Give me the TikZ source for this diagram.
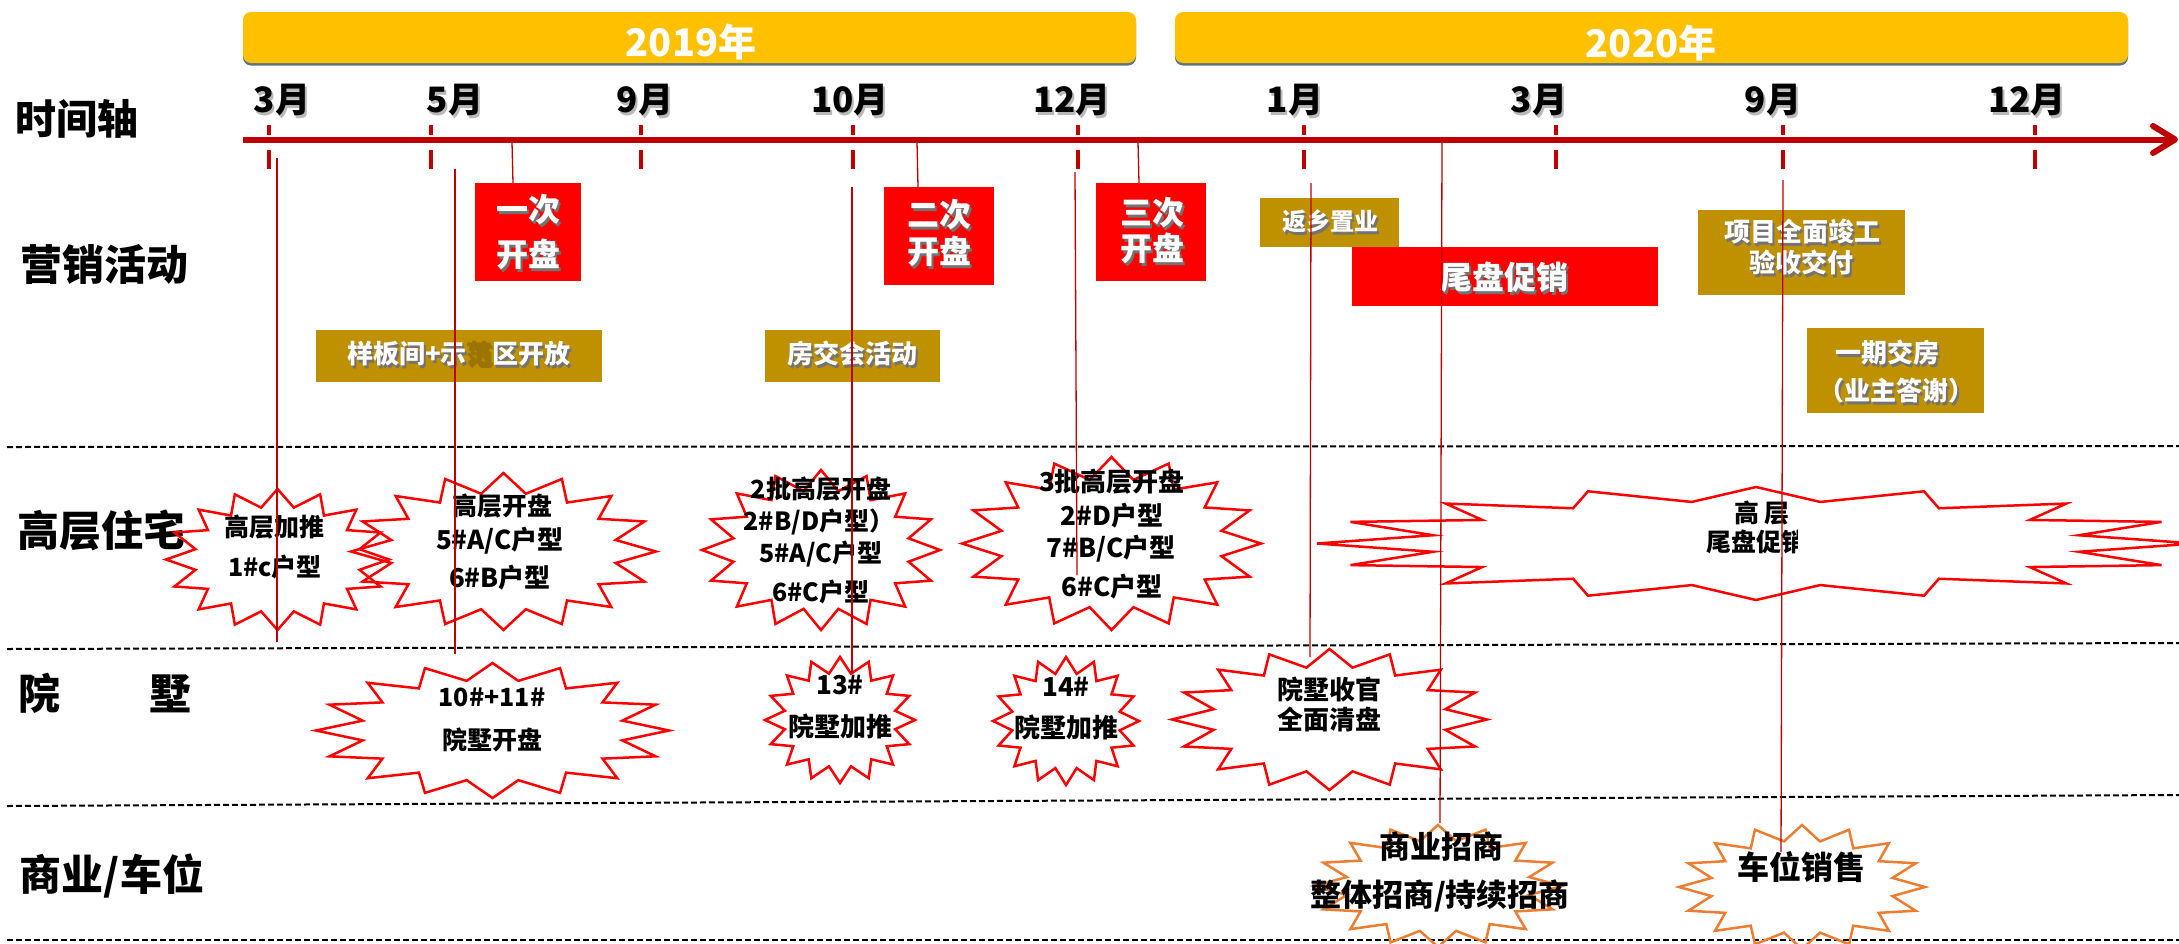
\documentclass[tikz,border=0pt]{standalone}
\usepackage{fontspec}
\setmainfont{Noto Sans CJK SC}
\definecolor{axisred}{HTML}{C00000}
\definecolor{boxred}{HTML}{FF0000}
\definecolor{goldbox}{HTML}{BF9000}
\definecolor{yellowbar}{HTML}{FFC000}
\definecolor{slate}{HTML}{5A7287}
\definecolor{orangeS}{HTML}{ED7D31}
\definecolor{fanC}{HTML}{9C7400}
\newcommand{\tx}[6]{\node[anchor=base, inner sep=0pt, font={\fontsize{#4}{#4}\selectfont\bfseries}, #5] (#1) at (#2,{#3+0.37*#4}) {#6};}
\newcommand{\txs}[7]{\node[anchor=base, inner sep=0pt, font={\fontsize{#4}{#4}\selectfont\bfseries}, #5, text=#7] (#1s) at ({#2+2},{#3+0.37*#4+2.5}) {#6};\tx{#1}{#2}{#3}{#4}{#5}{#6}}
\newcommand{\sstar}[5]{\draw[line width=2.5pt, draw=#5, line join=miter] plot[samples at={0,...,31}, variable=\k] ({#1+(1-0.25*mod(\k,2))*#3*sin(\k*11.25)},{#2-(1-0.25*mod(\k,2))*#4*cos(\k*11.25)}) -- cycle;}
\tikzset{
  dashline/.style={black, line width=2pt, dash pattern=on 6pt off 3pt},
  tickline/.style={axisred, line width=4pt},
  thinred/.style={axisred, line width=1.3pt},
  wt/.style={text=white},
  bt/.style={text=black},
}
\begin{document}
\begin{tikzpicture}[x=1pt,y=-1pt]
\useasboundingbox (0,0) rectangle (2179,943);
\clip (0,0) rectangle (2179,943);
\fill[white] (0,0) rectangle (2179,943);

% year bars
\fill[slate, rounded corners=8pt] (243,15) rectangle (1136,65.5);
\fill[yellowbar, rounded corners=8pt] (243,12) rectangle (1136,63);
\fill[slate, rounded corners=8pt] (1175,15) rectangle (2128,65.5);
\fill[yellowbar, rounded corners=8pt] (1175,12) rectangle (2128,63);
\tx{y19}{691}{42}{38}{wt}{2019年}
\tx{y20}{1651}{43}{38}{wt}{2020年}

% axis
\coordinate (axL) at (243,139.5);
\coordinate (axR) at (2172,139.5);
\draw[axisred, line width=6pt] (axL) -- (axR);
\draw[axisred, line width=6pt, line cap=round, line join=round] (2153,126) -- (2175,139.5) -- (2153,153);

% ticks
\foreach \tk in {269,431,641,853,1078,1304,1556,1783,2035}{
  \draw[tickline] (\tk,125) -- (\tk,135);
  \draw[tickline] (\tk,150) -- (\tk,169);
}

% month labels
\txs{m1}{282}{100}{35}{bt}{3月}{gray!55}
\txs{m2}{455}{100}{35}{bt}{5月}{gray!55}
\txs{m3}{645}{100}{35}{bt}{9月}{gray!55}
\txs{m4}{850}{100}{35}{bt}{10月}{gray!55}
\txs{m5}{1072}{100}{35}{bt}{12月}{gray!55}
\txs{m6}{1295}{100}{35}{bt}{1月}{gray!55}
\txs{m7}{1539}{100}{35}{bt}{3月}{gray!55}
\txs{m8}{1773}{100}{35}{bt}{9月}{gray!55}
\txs{m9}{2027}{100}{35}{bt}{12月}{gray!55}

% dashed separators
\draw[dashline] (7,447) -- (2179,446);
\draw[dashline] (7,649) -- (2179,643);
\draw[dashline] (7,806) -- (2179,795);
\draw[dashline] (7,940) -- (2179,940);

% side labels
\tx{tTime}{77}{119}{41}{bt}{时间轴}
\tx{tMkt}{104}{265}{42}{bt}{营销活动}
\tx{tHigh}{101}{531}{42}{bt}{高层住宅}
\tx{tVa}{40}{694}{42}{bt}{院}
\tx{tVb}{170}{694}{42}{bt}{墅}
\tx{tCom}{112}{875}{42}{bt}{商业/车位}

% boxes
\fill[boxred] (475,183) rectangle (581,281);
\fill[boxred] (884,187) rectangle (994,285);
\fill[boxred] (1096,183) rectangle (1206,281);
\fill[goldbox] (1260,198) rectangle (1399,247);
\fill[boxred] (1352,247) rectangle (1658,306);
\fill[goldbox] (1698,210) rectangle (1905,295);
\fill[goldbox] (1807,328) rectangle (1984,413);
\fill[goldbox] (316,330) rectangle (602,382);
\fill[goldbox] (765,330) rectangle (940,382);

\txs{b1a}{528}{210}{32}{wt}{一次}{black!55}
\txs{b1b}{528}{255}{32}{wt}{开盘}{black!55}
\txs{b2a}{939}{215}{32}{wt}{二次}{black!55}
\txs{b2b}{939}{252}{32}{wt}{开盘}{black!55}
\txs{b3a}{1152}{213}{32}{wt}{三次}{black!55}
\txs{b3b}{1152}{249}{32}{wt}{开盘}{black!55}
\txs{b4}{1330}{222}{24}{wt}{返乡置业}{black!55}
\txs{b5}{1504}{278}{32}{wt}{尾盘促销}{black!55}
\txs{b6a}{1802}{232}{26}{wt}{项目全面竣工}{black!55}
\txs{b6b}{1801}{263}{26}{wt}{验收交付}{black!55}
\txs{b7a}{1887}{353}{26}{wt}{一期交房}{black!55}
\txs{b7b}{1896}{391}{26}{wt}{（业主答谢）}{black!55}
\txs{b8}{459}{354}{26}{wt}{样板间+示{\color{fanC}范}区开放}{black!55}
\txs{b9}{852}{354}{26}{wt}{房交会活动}{black!55}

% stars
\sstar{277.5}{559.5}{111.5}{70.5}{boxred}
\sstar{503.5}{551.5}{152.5}{78.5}{boxred}
\sstar{821}{550}{119}{80}{boxred}
\sstar{1111.5}{543.5}{149.5}{86.5}{boxred}
\sstar{1756}{543.5}{439}{56.5}{boxred}
\sstar{492.5}{730.5}{176.5}{67.5}{boxred}
\sstar{840}{720}{75}{63}{boxred}
\sstar{1066}{721}{73}{64}{boxred}
\sstar{1329.5}{719.5}{157.5}{70.5}{boxred}
\sstar{1438}{886}{124}{61}{orangeS}
\sstar{1802}{887}{123}{62}{orangeS}

% star texts
\tx{s1a}{274}{527}{25}{bt}{高层加推}
\tx{s1b}{275}{567}{25}{bt}{1\#c户型}
\tx{s2a}{502}{506}{25}{bt}{高层开盘}
\tx{s2b}{500}{540}{26}{bt}{5\#A/C户型}
\tx{s2c}{500}{578}{26}{bt}{6\#B户型}
\tx{s3a}{821}{489}{25}{bt}{2批高层开盘}
\tx{s3b}{819}{521}{25}{bt}{2\#B/D户型）}
\tx{s3c}{821}{553}{25}{bt}{5\#A/C户型}
\tx{s3d}{821}{592}{25}{bt}{6\#C户型}
\tx{s4a}{1112}{482}{26}{bt}{3批高层开盘}
\tx{s4b}{1112}{516}{26}{bt}{2\#D户型}
\tx{s4c}{1111}{548}{26}{bt}{7\#B/C户型}
\tx{s4d}{1112}{587}{26}{bt}{6\#C户型}
\tx{s5a}{1762}{513}{25}{bt}{高 层}
\begin{scope}
\clip (1690,515) rectangle (1797,575);
\node[anchor=base west, inner sep=0pt, font={\fontsize{25}{25}\selectfont\bfseries}, bt] (s5b) at (1706,{542+0.37*25}) {尾盘促销};
\end{scope}
\tx{s6a}{492}{697}{25}{bt}{10\#+11\#}
\tx{s6b}{492}{740}{25}{bt}{院墅开盘}
\tx{s7a}{840}{685}{26}{bt}{13\#}
\tx{s7b}{840}{727}{26}{bt}{院墅加推}
\tx{s8a}{1066}{687}{26}{bt}{14\#}
\tx{s8b}{1066}{728}{26}{bt}{院墅加推}
\tx{s9a}{1329}{690}{26}{bt}{院墅收官}
\tx{s9b}{1329}{720}{26}{bt}{全面清盘}
\tx{s10a}{1441}{847}{31}{bt}{商业招商}
\tx{s10b}{1440}{895}{31}{bt}{整体招商/持续招商}
\tx{s11}{1801}{868}{32}{bt}{车位销售}

% thin connector lines
\coordinate (l1a) at (277,158);  \coordinate (l1b) at (277,642);
\coordinate (l2a) at (455,169);  \coordinate (l2b) at (455,654);
\coordinate (l3a) at (512,142);  \coordinate (l3b) at (513,183);
\coordinate (l4a) at (852,187);  \coordinate (l4b) at (852,673);
\coordinate (l5a) at (917,142);  \coordinate (l5b) at (918,187);
\coordinate (l6a) at (1075,172); \coordinate (l6b) at (1077,575);
\coordinate (l7a) at (1138,142); \coordinate (l7b) at (1139,183);
\coordinate (l8a) at (1311,183); \coordinate (l8b) at (1310,657);
\coordinate (l9a) at (1442,143); \coordinate (l9b) at (1440,823);
\coordinate (l10a) at (1783,180); \coordinate (l10b) at (1781,852);
\draw[thinred] (l1a) -- (l1b);
\draw[thinred] (l2a) -- (l2b);
\draw[thinred] (l3a) -- (l3b);
\draw[thinred, line width=2.2pt] (l4a) -- (l4b);
\draw[thinred] (l5a) -- (l5b);
\draw[thinred] (l6a) -- (l6b);
\draw[thinred] (l7a) -- (l7b);
\draw[thinred] (l8a) -- (l8b);
\draw[thinred] (l9a) -- (l9b);
\draw[thinred] (l10a) -- (l10b);
\end{tikzpicture}
\end{document}
